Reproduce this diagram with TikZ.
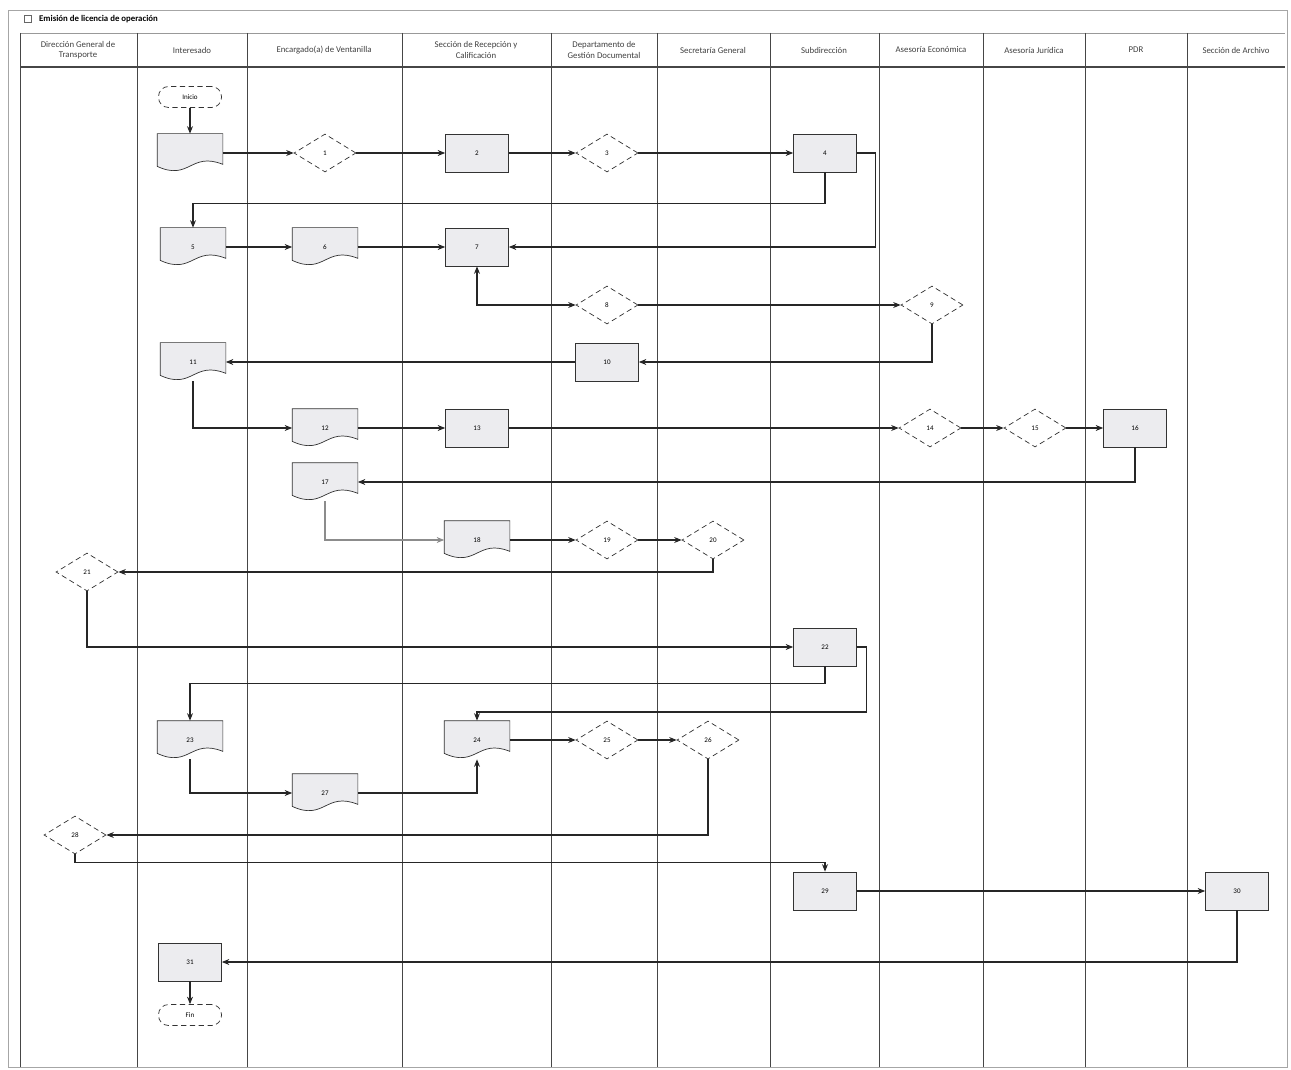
\documentclass[tikz,border=0pt]{standalone}
\usepackage{fontspec}
\setmainfont{Carlito}
\usetikzlibrary{arrows.meta, positioning, shapes.geometric, calc, backgrounds}
\definecolor{lanegray}{RGB}{70,70,70}
\definecolor{shapefill}{RGB}{236,236,239}
\tikzset{
  lane/.style  = {draw=lanegray, line width=0.5pt},
  hdr/.style   = {align=center, font=\fontsize{5}{6}\selectfont, text=black!75},
  proc/.style  = {rectangle, draw=black!80, fill=shapefill, minimum width=12.6mm,
                  minimum height=7.6mm, font=\fontsize{4}{5}\selectfont, inner sep=1pt},
  decis/.style = {diamond, draw=black!80, densely dashed, fill=white, minimum width=12.4mm,
                  minimum height=7.6mm, inner sep=0pt, font=\fontsize{4}{5}\selectfont},
  docu/.style  = {rectangle, minimum width=13mm, minimum height=7.6mm, inner sep=1pt,
                  font=\fontsize{4}{5}\selectfont},
  term/.style  = {rectangle, rounded corners=2mm, draw=black!80, densely dashed, fill=white,
                  minimum width=12.6mm, minimum height=4.2mm, font=\fontsize{4}{5}\selectfont},
  arr/.style   = {-{Stealth[length=1.5mm,width=1.2mm]}, line width=0.6pt, draw=black!85},
}
\newcommand{\docpath}[1]{%
  \draw[draw=black!80, fill=shapefill] (#1.north west) -- (#1.north east)
    -- ([yshift=1.6mm]#1.south east)
    .. controls ([xshift=-6.5mm,yshift=4.2mm]#1.south east) and ([xshift=6.5mm,yshift=-1.8mm]#1.south west)
    .. ([yshift=1.2mm]#1.south west) -- cycle;}

\begin{document}
\begin{tikzpicture}[x=0.2mm, y=-0.2mm]
  \useasboundingbox (0,0) rectangle (1291,1070);

  % frame, title and lane headers
  \draw[black!35, line width=0.4pt] (8,10) rectangle (1287,1067);
  \draw[black!60, line width=0.4pt] (24,15) rectangle (31,22);
  \node[anchor=west, font=\bfseries\fontsize{5}{6}\selectfont] (title) at (33,19)
    {Emisión de licencia de operación};
  \draw[black!40] (20,33) -- (1285,33);
  \draw[lanegray, line width=1pt] (20,67) -- (1285,67);
  \foreach \x in {20,137,247,402,551,657,770,879,983,1085,1187}
    \draw[lane] (\x,33) -- (\x,1067);
  \foreach \n/\x/\t in {l1/78/{Dirección General de\\Transporte}, l2/192/Interesado,
      l3/324/Encargado(a) de Ventanilla, l4/476/{Sección de Recepción y\\Calificación},
      l5/604/{Departamento de\\Gestión Documental}, l6/713/Secretaría General,
      l7/824/Subdirección, l8/931/Asesoría Económica, l9/1034/Asesoría Jurídica,
      l10/1136/PDR, l11/1236/Sección de Archivo}
    \node[hdr] (\n) at (\x,50) {\t};

  % shapes
  \node[term] (ini) at (190,97) {Inicio};
  \node[term] (fin) at (190,1015) {Fin};
  \foreach \n/\x/\y/\t in {doc1/190/153/{}, doc6/193/247/5, doc7/325/247/6,
      doc12/193/362/11, doc13/325/428/12, doc18/325/482/17, doc19/477/540/18,
      doc24/190/740/23, doc25/477/740/24, doc28/325/793/27}
    \node[docu] (\n) at (\x,\y) {\t};
  \foreach \n/\x/\y/\t in {r3/477/153/2, r5/825/153/4, r8/477/247/7, r11/607/362/10,
      r14/477/428/13, r17/1135/428/16, r23/825/647/22, r30/825/891/29,
      r31/1237/891/30, r32/190/962/31}
    \node[proc] (\n) at (\x,\y) {\t};
  \foreach \n/\x/\y/\t in {d2/325/153/1, d4/607/153/3, d9/607/305/8, d10/932/305/9,
      d15/930/428/14, d16/1035/428/15, d20/607/540/19, d21/713/540/20,
      d22/87/572/21, d26/607/740/25, d27/708/740/26, d29/75/835/28}
    \node[decis] (\n) at (\x,\y) {\t};
  \begin{scope}[on background layer]
    \foreach \d in {doc1,doc6,doc7,doc12,doc13,doc18,doc19,doc24,doc25,doc28}
      \docpath{\d};
  \end{scope}

  % connectors
  \draw[arr] (ini) -- (doc1);
  \draw[arr] (doc1) -- (d2);
  \draw[arr] (d2) -- (r3);
  \draw[arr] (r3) -- (d4);
  \draw[arr] (d4) -- (r5);
  \draw[arr] (r5.south) -- ++(0,31) -| (doc6.north);
  \draw[arr] (r5.east) -- ++(19,0) |- (r8.east);
  \draw[arr] (doc6) -- (doc7);
  \draw[arr] (doc7) -- (r8);
  \draw[arr, {Stealth[length=1.5mm,width=1.2mm]}-{Stealth[length=1.5mm,width=1.2mm]}]
    (r8.south) |- (d9.west);
  \draw[arr] (d9) -- (d10);
  \draw[arr] (d10.south) |- (r11.east);
  \draw[arr] (r11) -- (doc12);
  \draw[arr] (doc12.south) |- (doc13.west);
  \draw[arr] (doc13) -- (r14);
  \draw[arr] (r14) -- (d15);
  \draw[arr] (d15) -- (d16);
  \draw[arr] (d16) -- (r17);
  \draw[arr] (r17.south) |- (doc18.east);
  \draw[arr, draw=black!45] (doc18.south) |- (doc19.west);
  \draw[arr] (doc19) -- (d20);
  \draw[arr] (d20) -- (d21);
  \draw[arr] (d21.south) |- (d22.east);
  \draw[arr] (d22.south) |- (r23.west);
  \draw[arr] (r23.south) -- ++(0,17) -| (doc24.north);
  \draw[arr] (r23.east) -- ++(10,0) -- ++(0,65) -| (doc25.north);
  \draw[arr] (doc24.south) |- (doc28.west);
  \draw[arr] (doc28.east) -| (doc25.south);
  \draw[arr] (doc25) -- (d26);
  \draw[arr] (d26) -- (d27);
  \draw[arr] (d27.south) |- (d29.east);
  \draw[arr] (d29.south) -- ++(0,8) -| (r30.north);
  \draw[arr] (r30) -- (r31);
  \draw[arr] (r31.south) |- (r32.east);
  \draw[arr] (r32) -- (fin);
\end{tikzpicture}
\end{document}
